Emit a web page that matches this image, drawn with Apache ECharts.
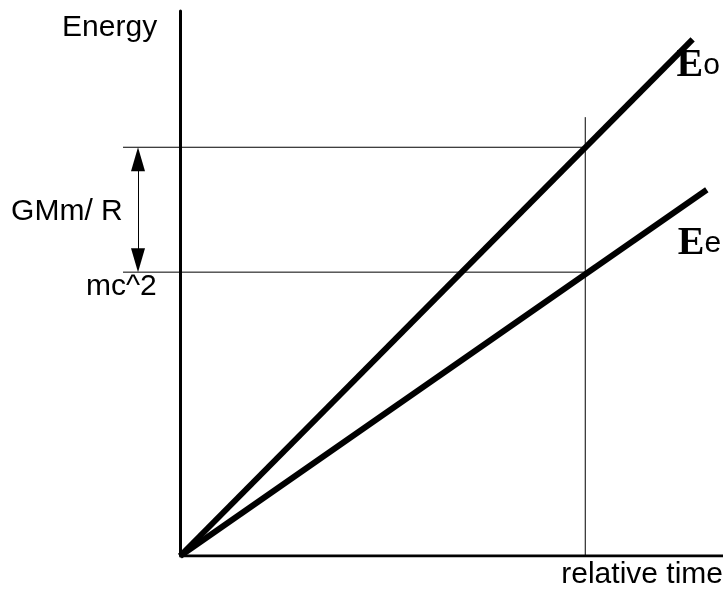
<!DOCTYPE html>
<html>
<head>
<meta charset="utf-8">
<script src="https://cdn.jsdelivr.net/npm/echarts@6/dist/echarts.min.js"></script>
<style>
html,body{margin:0;padding:0;background:#fff;}
#chart{width:727px;height:590px;}
</style>
</head>
<body>
<div id="chart"></div>
<script>
// ---- data ----
var timeMin = -0.42;         // room left of the energy axis for annotations
var timeMax = 1.34;          // relative time axis extent
var energyMax = 1.92;        // energy axis extent
var tMark = 1.0;             // marked relative time
var restEnergy = 1.0;        // mc^2 level
var topEnergy = 1.44;        // mc^2 + GMm/R level
var eoLine = [[0, 0], [1.265, 1.82]];
var eeLine = [[0, 0], [1.30, 1.29]];
var timeAxisLine = [[0, 0], [timeMax, 0]];
var guideLeft = -0.141;      // left start of horizontal guides
var arrowX = -0.104;         // x of the GMm/R arrow
var markTop = 1.546;         // top of the vertical guide

var SANS = '"Liberation Sans", Arial, Helvetica, sans-serif';
var SERIF = '"Liberation Serif", "Times New Roman", serif';

var chart = echarts.init(document.getElementById('chart'));
var thin = {color: '#000', width: 1};
var arrowHalf = 12 / 283.9;

chart.setOption({
  animation: false,
  backgroundColor: '#fff',
  grid: {left: 10, right: 4, top: 11, bottom: 34, containLabel: false},
  xAxis: {
    type: 'value', min: timeMin, max: timeMax,
    axisLine: {show: false},
    axisTick: {show: false}, axisLabel: {show: false}, splitLine: {show: false},
    name: 'relative time', nameLocation: 'end', nameGap: 0,
    nameTextStyle: {fontFamily: SANS, fontSize: 30, color: '#000', align: 'right',
      verticalAlign: 'top', lineHeight: 30, padding: [4, 0, 0, 0]}
  },
  yAxis: {
    type: 'value', min: 0, max: energyMax,
    axisLine: {show: true, onZero: true, lineStyle: {color: '#000', width: 3}},
    axisTick: {show: false}, axisLabel: {show: false}, splitLine: {show: false},
    name: 'Energy', nameLocation: 'end', nameGap: -17,
    nameTextStyle: {fontFamily: SANS, fontSize: 30, color: '#000', align: 'right',
      verticalAlign: 'middle', padding: [0, 23, 0, 0]}
  },
  series: [
    {
      type: 'line', data: timeAxisLine, symbol: 'none', silent: true, z: 2,
      lineStyle: {color: '#000', width: 3}
    },
    {
      type: 'line', data: [[guideLeft, topEnergy], [tMark, topEnergy]],
      symbol: 'none', lineStyle: thin, silent: true, z: 1,
      markLine: {
        silent: true, symbol: ['triangle', 'triangle'], symbolSize: [14, 24],
        lineStyle: {color: '#000', width: 1, type: 'solid'},
        itemStyle: {color: '#000'},
        label: {show: false},
        data: [[{coord: [arrowX, topEnergy - arrowHalf]}, {coord: [arrowX, restEnergy + arrowHalf]}]]
      },
      markPoint: {
        silent: true, symbolSize: 1, itemStyle: {color: 'rgba(0,0,0,0)'},
        data: [
          {coord: [-0.141, 1.21], label: {show: true, position: 'left', distance: 0,
            formatter: 'GMm/ R', fontFamily: SANS, fontSize: 30, color: '#000'}},
          {coord: [-0.057, 0.947], label: {show: true, position: 'left', distance: 0,
            formatter: 'mc^2', fontFamily: SANS, fontSize: 30, color: '#000'}}
        ]
      }
    },
    {
      type: 'line', data: [[guideLeft, restEnergy], [tMark, restEnergy]],
      symbol: 'none', lineStyle: thin, silent: true, z: 1
    },
    {
      type: 'line', data: [[tMark, 0], [tMark, markTop]],
      symbol: 'none', lineStyle: thin, silent: true, z: 1
    },
    {
      type: 'line', data: eoLine, symbol: 'none', silent: true, z: 3,
      lineStyle: {color: '#000', width: 6},
      endLabel: {show: true, offset: [-24, 26], color: '#000',
        formatter: '{b|E}{s|o}',
        rich: {b: {fontFamily: SERIF, fontWeight: 'bold', fontSize: 40, color: '#000'},
               s: {fontFamily: SANS, fontSize: 30, color: '#000'}}}
    },
    {
      type: 'line', data: eeLine, symbol: 'none', silent: true, z: 3,
      lineStyle: {color: '#000', width: 6},
      endLabel: {show: true, offset: [-37, 54], color: '#000',
        formatter: '{b|E}{s|e}',
        rich: {b: {fontFamily: SERIF, fontWeight: 'bold', fontSize: 40, color: '#000'},
               s: {fontFamily: SANS, fontSize: 30, color: '#000'}}}
    }
  ]
});
</script>
</body>
</html>
